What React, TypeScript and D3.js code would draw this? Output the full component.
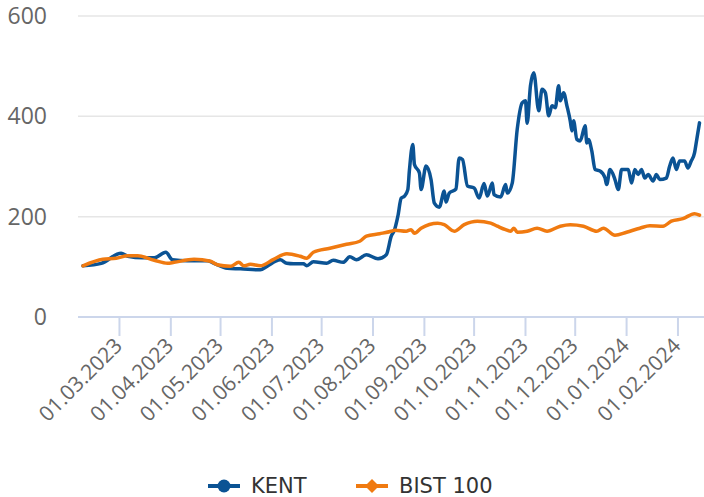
import React, { useRef, useEffect } from 'react';
import * as d3 from 'd3';

// KENT ve BIST 100 (başlangıç = 100) karşılaştırması
const kentDates = [
  '2023-02-07', '2023-02-18', '2023-03-02', '2023-03-06', '2023-03-15', '2023-03-22', '2023-03-29',
  '2023-04-02', '2023-04-11', '2023-04-23', '2023-04-27', '2023-05-05', '2023-05-13', '2023-05-25',
  '2023-05-29', '2023-06-06', '2023-06-10', '2023-06-14', '2023-06-20', '2023-06-22', '2023-06-26',
  '2023-07-04', '2023-07-08', '2023-07-14', '2023-07-18', '2023-07-22', '2023-07-28', '2023-08-04',
  '2023-08-09', '2023-08-12', '2023-08-14', '2023-08-16', '2023-08-18', '2023-08-20', '2023-08-22',
  '2023-08-23', '2023-08-25', '2023-08-26', '2023-08-29', '2023-08-30', '2023-09-02', '2023-09-05',
  '2023-09-07', '2023-09-10', '2023-09-13', '2023-09-14', '2023-09-16', '2023-09-20', '2023-09-22',
  '2023-09-24', '2023-09-27', '2023-10-01', '2023-10-04', '2023-10-07', '2023-10-09', '2023-10-12',
  '2023-10-13', '2023-10-17', '2023-10-20', '2023-10-21', '2023-10-24', '2023-10-27', '2023-10-30',
  '2023-11-01', '2023-11-02', '2023-11-04', '2023-11-06', '2023-11-09', '2023-11-11', '2023-11-13',
  '2023-11-15', '2023-11-17', '2023-11-19', '2023-11-21', '2023-11-22', '2023-11-24', '2023-11-26',
  '2023-11-28', '2023-11-29', '2023-11-30', '2023-12-02', '2023-12-04', '2023-12-07', '2023-12-08',
  '2023-12-09', '2023-12-11', '2023-12-13', '2023-12-16', '2023-12-19', '2023-12-20', '2023-12-22',
  '2023-12-25', '2023-12-27', '2023-12-29', '2024-01-02', '2024-01-04', '2024-01-06', '2024-01-08',
  '2024-01-10', '2024-01-12', '2024-01-14', '2024-01-17', '2024-01-19', '2024-01-21', '2024-01-25',
  '2024-01-27', '2024-01-29', '2024-01-31', '2024-02-02', '2024-02-05', '2024-02-07', '2024-02-09',
  '2024-02-11', '2024-02-12', '2024-02-14',
];
const kentValues = [
  102, 107, 127, 121, 118, 118, 129,
  114, 112, 112, 107, 97, 96, 94,
  101, 114, 107, 106, 106, 102, 110,
  107, 113, 109, 120, 114, 124, 116,
  124, 161, 174, 201, 237, 241, 254,
  294, 344, 304, 287, 254, 301, 274,
  227, 219, 251, 229, 247, 255, 317,
  314, 261, 257, 237, 266, 241, 267,
  244, 239, 264, 247, 267, 374, 427,
  431, 386, 461, 487, 411, 454, 447,
  401, 421, 417, 461, 431, 447, 421,
  391, 371, 391, 354, 351, 381, 347,
  354, 331, 294, 291, 277, 264, 294,
  274, 254, 294, 294, 267, 294, 284,
  294, 277, 284, 271, 284, 274, 277,
  301, 317, 294, 311, 311, 297, 311,
  327, 347, 387,
];

const bistDates = [
  '2023-02-07', '2023-02-19', '2023-02-27', '2023-03-06', '2023-03-12', '2023-03-22', '2023-03-30',
  '2023-04-03', '2023-04-15', '2023-04-25', '2023-04-29', '2023-05-07', '2023-05-12', '2023-05-15',
  '2023-05-19', '2023-05-25', '2023-06-02', '2023-06-10', '2023-06-18', '2023-06-22', '2023-06-26',
  '2023-07-06', '2023-07-16', '2023-07-24', '2023-07-28', '2023-08-05', '2023-08-12', '2023-08-14',
  '2023-08-21', '2023-08-24', '2023-08-26', '2023-08-30', '2023-09-09', '2023-09-13', '2023-09-19',
  '2023-09-25', '2023-10-03', '2023-10-11', '2023-10-15', '2023-10-20', '2023-10-23', '2023-10-25',
  '2023-10-27', '2023-11-02', '2023-11-08', '2023-11-14', '2023-11-22', '2023-11-28', '2023-12-06',
  '2023-12-14', '2023-12-18', '2023-12-25', '2024-01-01', '2024-01-09', '2024-01-15', '2024-01-23',
  '2024-01-28', '2024-02-04', '2024-02-11', '2024-02-14',
];
const bistValues = [
  102, 115, 117, 122, 122, 113, 107,
  109, 115, 111, 104, 101, 109, 102,
  105, 102, 115, 126, 121, 117, 129,
  137, 145, 151, 161, 166, 171, 173,
  171, 174, 167, 177, 187, 184, 171,
  184, 191, 187, 181, 174, 171, 177,
  169, 171, 177, 171, 181, 184, 181,
  171, 177, 163, 169, 177, 182, 181,
  191, 196, 206, 203,
];

const yTicks = [0, 200, 400, 600];
const seriesNames = ['KENT', 'BIST 100'];
const seriesColors = ['#0b5394', '#f07a10'];

const W = 704;
const H = 497;

export default function App() {
  const svgRef = useRef<SVGSVGElement | null>(null);

  useEffect(() => {
    const svg = d3.select(svgRef.current);
    svg.selectAll('*').remove();

    const parse = d3.timeParse('%Y-%m-%d');
    const kent = kentDates.map((d, i) => ({ date: parse(d)!, value: kentValues[i] }));
    const bist = bistDates.map((d, i) => ({ date: parse(d)!, value: bistValues[i] }));

    const plotLeft = 78;
    const plotRight = 704;
    const x = d3
      .scaleTime()
      .domain([parse('2023-02-07')!, parse('2024-02-14')!])
      .range([83, 699.5]);
    const y = d3.scaleLinear().domain([0, 600]).range([317, 16]);

    // grid
    svg
      .append('g')
      .selectAll('line')
      .data(yTicks.filter((t) => t > 0))
      .enter()
      .append('line')
      .attr('x1', plotLeft)
      .attr('x2', plotRight)
      .attr('y1', (d) => y(d))
      .attr('y2', (d) => y(d))
      .attr('stroke', '#e6e6e6')
      .attr('stroke-width', 1.5);

    // y labels
    svg
      .append('g')
      .selectAll('text')
      .data(yTicks)
      .enter()
      .append('text')
      .attr('x', 47)
      .attr('y', (d) => y(d) + 8)
      .attr('text-anchor', 'end')
      .attr('font-family', '"Open Sans", sans-serif')
      .attr('font-size', 23)
      .attr('fill', '#666666')
      .text((d) => d);

    // x axis
    const monthTicks = d3.timeMonth.range(parse('2023-03-01')!, parse('2024-02-02')!);
    svg
      .append('line')
      .attr('x1', plotLeft)
      .attr('x2', plotRight)
      .attr('y1', y(0))
      .attr('y2', y(0))
      .attr('stroke', '#ccd6eb')
      .attr('stroke-width', 2);
    svg
      .append('g')
      .selectAll('line')
      .data(monthTicks)
      .enter()
      .append('line')
      .attr('x1', (d) => x(d))
      .attr('x2', (d) => x(d))
      .attr('y1', y(0))
      .attr('y2', y(0) + 19)
      .attr('stroke', '#ccd6eb')
      .attr('stroke-width', 2);
    const fmt = d3.timeFormat('%d.%m.%Y');
    svg
      .append('g')
      .selectAll('text')
      .data(monthTicks)
      .enter()
      .append('text')
      .attr('transform', (d) => `translate(${x(d) + 4},${y(0) + 30}) rotate(-45)`)
      .attr('text-anchor', 'end')
      .attr('font-family', '"Open Sans", sans-serif')
      .attr('font-size', 21)
      .attr('fill', '#666666')
      .text((d) => fmt(d));

    // lines
    const line = d3
      .line<{ date: Date; value: number }>()
      .x((d) => x(d.date))
      .y((d) => y(d.value))
      .curve(d3.curveMonotoneX);

    [kent, bist].forEach((s, i) => {
      svg
        .append('path')
        .datum(s)
        .attr('d', line)
        .attr('fill', 'none')
        .attr('stroke', seriesColors[i])
        .attr('stroke-width', 3.5)
        .attr('stroke-linejoin', 'round')
        .attr('stroke-linecap', 'round');
    });

    // legend
    const legendX = [208, 356];
    const legendY = 486;
    seriesNames.forEach((name, i) => {
      const g = svg.append('g').attr('transform', `translate(${legendX[i]},${legendY})`);
      g.append('line')
        .attr('x1', 0)
        .attr('x2', 32)
        .attr('stroke', seriesColors[i])
        .attr('stroke-width', 4);
      if (i === 0) {
        g.append('circle').attr('cx', 16).attr('cy', 0).attr('r', 6.5).attr('fill', seriesColors[i]);
      } else {
        g.append('path')
          .attr('d', 'M16,-7 L23,0 L16,7 L9,0 Z')
          .attr('fill', seriesColors[i]);
      }
      g.append('text')
        .attr('x', 43)
        .attr('y', 7)
        .attr('font-family', '"DejaVu Sans", sans-serif')
        .attr('font-size', 21)
        .attr('fill', '#333333')
        .text(name);
    });
  }, []);

  return (
    <svg
      ref={svgRef}
      width={W}
      height={H}
      style={{ position: 'absolute', left: 0, top: 0, background: '#fff' }}
    />
  );
}
